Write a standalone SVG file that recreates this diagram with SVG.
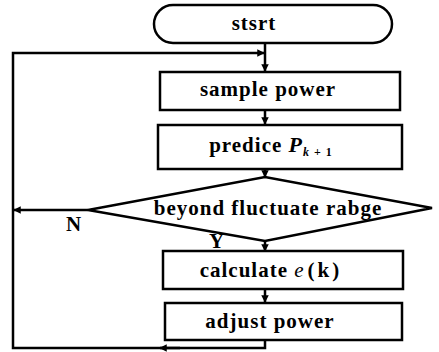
<svg xmlns="http://www.w3.org/2000/svg" width="439" height="352" viewBox="0 0 439 352">
<style>
.box{fill:#fff;stroke:#000;stroke-width:2.5}
.ln{fill:none;stroke:#000;stroke-width:2.5}
.t{font-family:"Liberation Serif","Times New Roman",serif;font-weight:bold;font-size:21px;letter-spacing:1px;fill:#000;text-anchor:middle}
.i{font-style:italic}
</style>
<defs>
<marker id="ah" viewBox="0 0 10 10" refX="9" refY="5" markerWidth="3" markerHeight="3" orient="auto" markerUnits="strokeWidth">
<path d="M0,0 L10,5 L0,10 z" fill="#000"/>
</marker>
</defs>
<rect width="439" height="352" fill="#fff"/>
<g id="connectors">
<line class="ln" x1="265" y1="43" x2="265" y2="71" marker-end="url(#ah)"/>
<line class="ln" x1="265" y1="110" x2="265" y2="124" marker-end="url(#ah)"/>
<line class="ln" x1="265" y1="169" x2="265" y2="177" marker-end="url(#ah)"/>
<line class="ln" x1="265" y1="241" x2="265" y2="251" marker-end="url(#ah)"/>
<line class="ln" x1="265" y1="289" x2="265" y2="302" marker-end="url(#ah)"/>
<line class="ln" x1="88" y1="210" x2="14" y2="210" marker-end="url(#ah)"/>
<polyline class="ln" points="265,340 265,348 13,348 13,53 264,53" marker-end="url(#ah)"/>
<line class="ln" x1="180" y1="348" x2="160" y2="348" marker-end="url(#ah)"/>
</g>
<g id="start">
<rect class="box" x="154" y="5" width="238" height="38" rx="19" ry="19"/>
<text class="t" x="254" y="30">stsrt</text>
</g>
<g id="sample">
<rect class="box" x="160" y="72" width="240" height="38"/>
<text class="t" x="268" y="96">sample power</text>
</g>
<g id="predict">
<rect class="box" x="158" y="125" width="244" height="44"/>
<text class="t" x="271" y="152">predice <tspan class="i" font-size="22">P</tspan><tspan class="i" font-size="12" dy="4">k</tspan><tspan font-size="12"> + 1</tspan></text>
</g>
<g id="decision">
<polygon class="box" points="88,210 265,177 432,208 265,241"/>
<text class="t" x="268" y="215">beyond fluctuate rabge</text>
</g>
<g id="calc">
<rect class="box" x="163" y="251" width="240" height="38"/>
<text class="t" x="270" y="277">calculate <tspan class="i" font-weight="normal">e</tspan><tspan dx="3">(</tspan><tspan dx="2">k</tspan><tspan dx="2">)</tspan></text>
</g>
<g id="adjust">
<rect class="box" x="165" y="303" width="237" height="37"/>
<text class="t" x="270" y="328">adjust power</text>
</g>
<g id="labels">
<text class="t" x="74" y="231" font-size="17">N</text>
<text class="t" x="217" y="248" font-size="17">Y</text>
</g>
</svg>
